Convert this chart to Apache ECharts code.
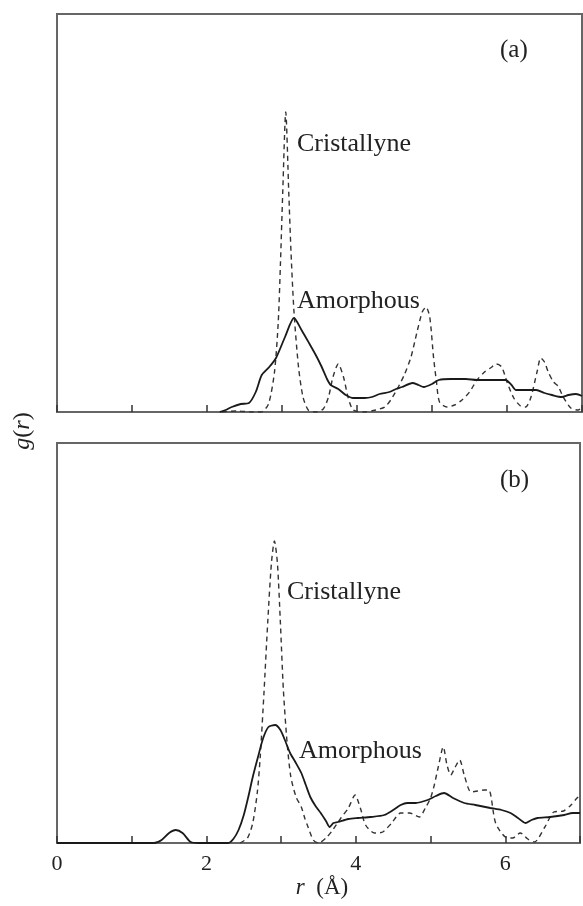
<!DOCTYPE html>
<html>
<head>
<meta charset="utf-8">
<script src="https://cdn.jsdelivr.net/npm/echarts@6/dist/echarts.min.js"></script>
<style>
  html, body { margin: 0; padding: 0; background: #fff; }
  #main { width: 583px; height: 906px; }
</style>
</head>
<body>
<div id="main"></div>
<script>
// x axis: r (Å)
var xTicks = [0, 1, 2, 3, 4, 5, 6, 7];
var xTickLabels = ['0', '', '2', '', '4', '', '6', ''];

// (a) amorphous, solid
var amorphA = [
    [2.17, 0], [2.25, 0.2], [2.33, 0.5], [2.45, 0.8], [2.56, 0.9], [2.65, 2.0], [2.73, 3.7],
    [2.83, 4.5], [2.92, 5.4], [3.04, 7.5], [3.16, 9.4], [3.26, 8.2], [3.36, 6.9], [3.45, 5.7],
    [3.53, 4.5], [3.6, 3.3], [3.65, 2.7], [3.75, 2.3], [3.85, 1.7], [3.95, 1.4], [4.1, 1.4],
    [4.2, 1.5], [4.3, 1.8], [4.43, 2.0], [4.52, 2.3], [4.6, 2.5], [4.74, 2.9], [4.82, 2.7],
    [4.89, 2.5], [5.0, 2.8], [5.09, 3.2], [5.25, 3.3], [5.45, 3.3], [5.6, 3.2], [5.8, 3.2],
    [5.98, 3.2], [6.06, 2.7], [6.12, 2.2], [6.25, 2.2], [6.39, 2.2], [6.5, 1.9], [6.6, 1.7],
    [6.73, 1.5], [6.82, 1.7], [6.92, 1.8], [7.0, 1.6]
];
// (a) crystalline, dashed
var crystA = [
    [2.2, 0], [2.4, 0.1], [2.6, 0], [2.72, 0], [2.82, 0.8], [2.9, 4], [2.95, 9], [2.98, 15],
    [3.01, 22], [3.05, 30], [3.09, 22], [3.12, 16], [3.16, 10], [3.22, 4.5], [3.28, 1.5],
    [3.35, 0.2], [3.45, 0], [3.55, 0.3], [3.62, 1.5], [3.68, 3.5], [3.75, 4.8], [3.82, 3.5],
    [3.88, 1.5], [3.95, 0.2], [4.1, 0], [4.25, 0.2], [4.37, 0.5], [4.45, 1.2], [4.55, 2.5],
    [4.63, 3.7], [4.72, 5.5], [4.8, 8], [4.87, 10], [4.92, 10.5], [4.97, 9.5], [5.02, 5.5],
    [5.06, 3], [5.1, 1], [5.2, 0.5], [5.3, 0.7], [5.4, 1.2], [5.5, 2], [5.6, 3.2], [5.7, 4],
    [5.78, 4.4], [5.86, 4.8], [5.93, 4.5], [6.0, 3], [6.09, 1.4], [6.18, 0.6], [6.25, 0.5],
    [6.32, 1.5], [6.4, 4], [6.45, 5.4], [6.5, 5], [6.55, 4], [6.62, 3], [6.68, 2.6],
    [6.75, 1.5], [6.85, 0.4], [6.95, 0.2], [7.0, 0.5]
];
// (b) amorphous, solid
var amorphB = [
    [0, 0], [1.3, 0], [1.4, 0.3], [1.5, 1.0], [1.59, 1.3], [1.68, 1.0], [1.79, 0.1], [1.9, 0],
    [2.29, 0], [2.36, 0.4], [2.43, 1.3], [2.5, 2.8], [2.56, 4.6], [2.62, 6.6], [2.69, 8.6],
    [2.76, 10.5], [2.83, 11.6], [2.92, 11.8], [2.99, 11.3], [3.05, 10.3], [3.12, 9.0],
    [3.19, 8.1], [3.27, 7.0], [3.33, 5.8], [3.39, 4.6], [3.46, 3.7], [3.53, 3.0], [3.6, 2.2],
    [3.65, 1.6], [3.7, 2.0], [3.76, 2.1], [3.9, 2.4], [4.03, 2.5], [4.2, 2.6], [4.38, 2.8],
    [4.5, 3.3], [4.6, 3.8], [4.69, 4.0], [4.8, 4.0], [4.96, 4.3], [5.07, 4.7], [5.18, 5.0],
    [5.3, 4.5], [5.45, 4.0], [5.6, 3.8], [5.8, 3.5], [5.95, 3.3], [6.07, 3.0], [6.17, 2.5],
    [6.27, 2.0], [6.35, 2.3], [6.43, 2.5], [6.6, 2.6], [6.79, 2.8], [6.9, 3.0], [7.0, 3.0]
];
// (b) crystalline, dashed
var crystB = [
    [2.45, 0], [2.55, 0.5], [2.62, 2], [2.68, 5], [2.72, 8.6], [2.77, 15], [2.82, 22],
    [2.87, 28], [2.91, 30.2], [2.95, 28], [2.99, 22], [3.03, 15.3], [3.08, 10], [3.13, 6.6],
    [3.2, 4.6], [3.27, 3.6], [3.32, 2.4], [3.36, 1.6], [3.43, 0.3], [3.5, 0], [3.6, 0.5],
    [3.68, 1.2], [3.8, 2.5], [3.9, 3.5], [3.99, 4.8], [4.06, 3.5], [4.13, 1.8], [4.25, 1.0],
    [4.36, 1.1], [4.48, 2], [4.6, 3.0], [4.72, 3.0], [4.85, 2.6], [4.93, 3.5], [5.0, 4.5],
    [5.05, 5.8], [5.1, 7.5], [5.17, 9.6], [5.22, 7.8], [5.27, 6.8], [5.33, 7.6], [5.39, 8.3],
    [5.45, 6.8], [5.54, 5.1], [5.63, 5.2], [5.72, 5.3], [5.78, 5.3], [5.87, 2.0], [6.0, 0.6],
    [6.1, 0.5], [6.2, 1.0], [6.3, 0.4], [6.39, 0.1], [6.53, 1.6], [6.65, 3.1], [6.78, 3.2],
    [6.88, 3.8], [6.96, 4.5], [7.0, 4.7]
];

var serif = '"Liberation Serif", "DejaVu Serif", serif';

function xAxisOf(idx, showLabels) {
    return {
        type: 'value', gridIndex: idx, min: 0, max: 7, interval: 1,
        axisLine: { lineStyle: { color: '#666', width: 2 } },
        axisTick: { inside: true, length: 7, lineStyle: { color: '#333', width: 1.5 } },
        splitLine: { show: false },
        axisLabel: {
            show: showLabels, margin: 10, color: '#222', fontFamily: serif, fontSize: 22,
            formatter: function(v) { return xTickLabels[xTicks.indexOf(v)] || ''; }
        }
    };
}

function yAxisOf(idx, max) {
    return {
        type: 'value', gridIndex: idx, min: 0, max: max,
        axisLine: { show: false }, axisTick: { show: false },
        axisLabel: { show: false }, splitLine: { show: false }
    };
}

function lineOf(idx, data, dashed) {
    return {
        type: 'line', xAxisIndex: idx, yAxisIndex: idx, data: data,
        showSymbol: false, smooth: 0.25, silent: true,
        lineStyle: dashed ? { color: '#333', width: 1.4, type: [5, 4] } : { color: '#1a1a1a', width: 1.8 }
    };
}

var chart = echarts.init(document.getElementById('main'), null, { renderer: 'canvas' });
chart.setOption({
    backgroundColor: '#fff',
    animation: false,
    grid: [
        { left: 57, right: 1, top: 14, height: 398, show: true, borderColor: '#666', borderWidth: 2 },
        { left: 57, right: 1, top: 443, height: 400, show: true, borderColor: '#666', borderWidth: 2 }
    ],
    xAxis: [xAxisOf(0, false), xAxisOf(1, true)],
    yAxis: [yAxisOf(0, 39.8), yAxisOf(1, 40)],
    series: [
        lineOf(0, crystA, true),
        lineOf(0, amorphA, false),
        lineOf(1, crystB, true),
        lineOf(1, amorphB, false)
    ],
    graphic: [
        { type: 'text', left: 500, top: 38, style: { text: '(a)', font: '25px ' + serif, fill: '#222' } },
        { type: 'text', left: 500, top: 468, style: { text: '(b)', font: '25px ' + serif, fill: '#222' } },
        { type: 'text', left: 297, top: 131, style: { text: 'Cristallyne', font: '26px ' + serif, fill: '#222' } },
        { type: 'text', left: 297, top: 288, style: { text: 'Amorphous', font: '26px ' + serif, fill: '#222' } },
        { type: 'text', left: 287, top: 579, style: { text: 'Cristallyne', font: '26px ' + serif, fill: '#222' } },
        { type: 'text', left: 299, top: 738, style: { text: 'Amorphous', font: '26px ' + serif, fill: '#222' } },
        {
            type: 'text', x: 23, y: 431, rotation: Math.PI / 2,
            style: {
                text: '{i|g}({i|r})', font: '24px ' + serif, fill: '#222', align: 'center', verticalAlign: 'middle',
                rich: { i: { fontStyle: 'italic', fontFamily: serif, fontSize: 24 } }
            }
        },
        {
            type: 'text', x: 322, y: 888,
            style: {
                text: '{i|r}  (Å)', font: '23px ' + serif, fill: '#222', align: 'center', verticalAlign: 'middle',
                rich: { i: { fontStyle: 'italic', fontFamily: serif, fontSize: 23 } }
            }
        }
    ]
});
</script>
</body>
</html>
